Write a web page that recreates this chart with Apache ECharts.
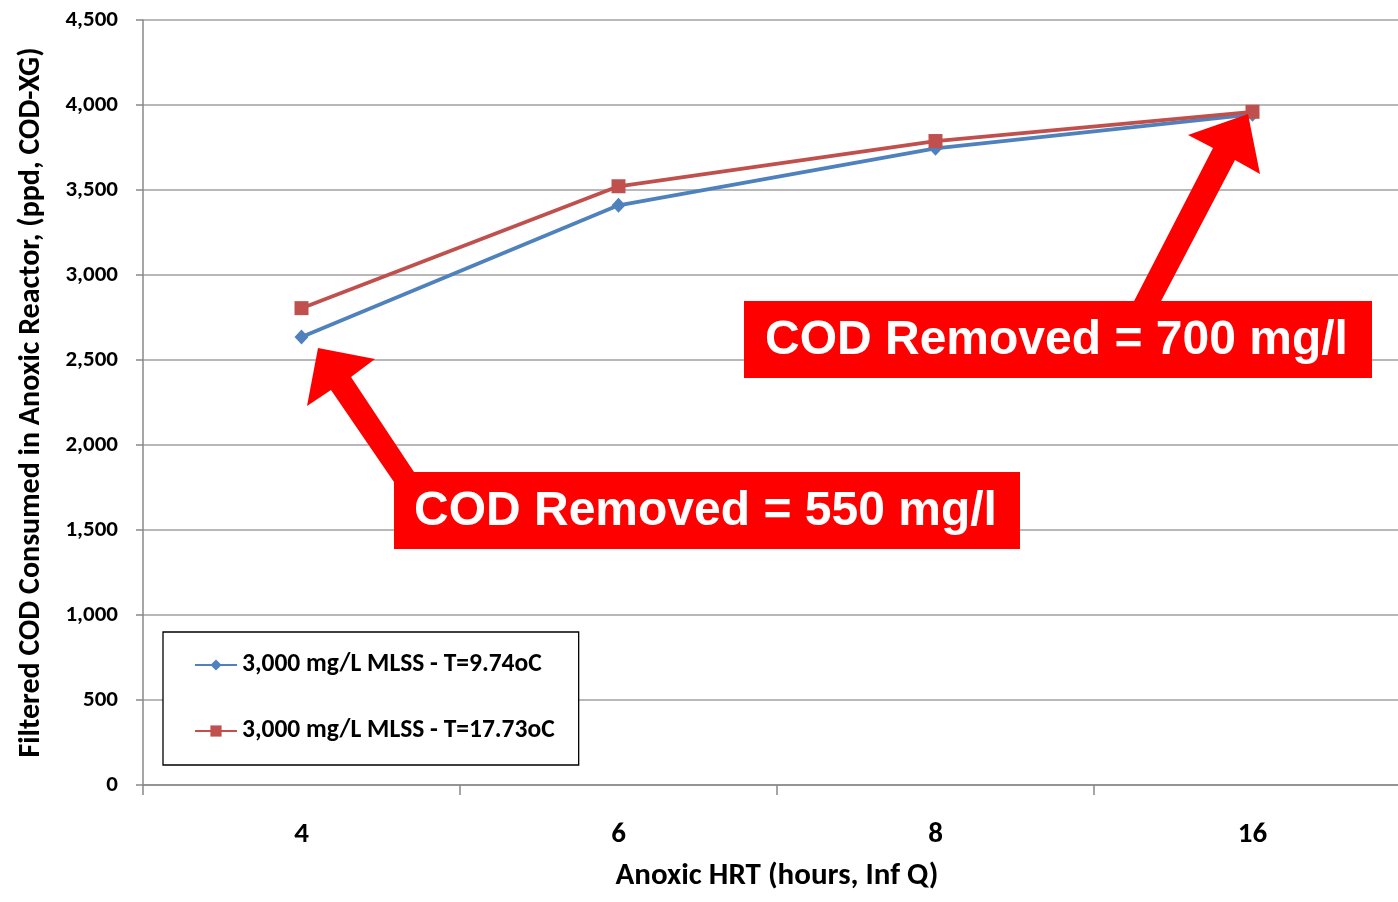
<!DOCTYPE html>
<html>
<head>
<meta charset="utf-8">
<script src="https://cdn.jsdelivr.net/npm/echarts@6/dist/echarts.min.js"></script>
<style>html,body{margin:0;padding:0;background:#fff}#c{width:1398px;height:902px}</style>
</head>
<body>
<div id="c"></div>
<script>
var categories = ['4', '6', '8', '16'];
var seriesNames = ['3,000 mg/L MLSS - T=9.74oC', '3,000 mg/L MLSS - T=17.73oC'];
var coldValues = [2635, 3410, 3745, 3945];
var warmValues = [2805, 3522, 3788, 3960];
var yTicks = [0, 500, 1000, 1500, 2000, 2500, 3000, 3500, 4000, 4500];
var noteLow = 'COD Removed = 550 mg/l';
var noteHigh = 'COD Removed = 700 mg/l';

var FONT = "Carlito, Calibri, Lato, sans-serif";
var chart = echarts.init(document.getElementById('c'), null, {renderer: 'canvas'});
chart.setOption({
  animation: false,
  backgroundColor: '#fff',
  grid: {left: 143, top: 20, width: 1268, height: 765, containLabel: false, outerBoundsMode: 'none'},
  legend: {
    orient: 'vertical', left: 163, top: 632,
    padding: [20, 24, 21, 31], itemGap: 40,
    itemWidth: 42, itemHeight: 14,
    borderColor: '#000', borderWidth: 1.3, backgroundColor: '#fff',
    textStyle: {fontFamily: FONT, fontWeight: 'bold', fontSize: 25.5, color: '#000'},
    data: seriesNames
  },
  xAxis: {
    type: 'category', data: categories, boundaryGap: true,
    axisLine: {lineStyle: {color: '#888', width: 1.5}},
    axisTick: {show: true, length: 10, lineStyle: {color: '#888', width: 1.5}},
    axisLabel: {margin: 35, fontFamily: FONT, fontWeight: 'bold', fontSize: 29, color: '#000'},
    splitLine: {show: false},
    name: 'Anoxic HRT (hours, Inf Q)', nameLocation: 'middle', nameGap: 76,
    nameTextStyle: {fontFamily: FONT, fontWeight: 'bold', fontSize: 31, color: '#000'}
  },
  yAxis: {
    type: 'value', min: 0, max: 4500, interval: 500,
    axisLine: {show: true, lineStyle: {color: '#888', width: 1.5}},
    axisTick: {show: true, length: 7, lineStyle: {color: '#888', width: 1.5}},
    splitLine: {show: true, lineStyle: {color: '#a0a0a0', width: 1.5}},
    axisLabel: {margin: 25, fontFamily: FONT, fontWeight: 'bold', fontSize: 23, color: '#000',
      formatter: function (v) { return yTicks.indexOf(v) >= 0 ? v.toLocaleString('en-US') : ''; }},
    name: 'Filtered COD Consumed in Anoxic Reactor, (ppd, COD-XG)', nameLocation: 'middle', nameGap: 97,
    nameTextStyle: {fontFamily: FONT, fontWeight: 'bold', fontSize: 30, color: '#000'}
  },
  series: [
    {name: seriesNames[0], type: 'line', data: coldValues, symbol: 'diamond', symbolSize: [14, 15],
     itemStyle: {color: '#4F81BD'}, lineStyle: {color: '#4F81BD', width: 3.8}},
    {name: seriesNames[1], type: 'line', data: warmValues, symbol: 'rect', symbolSize: 14,
     itemStyle: {color: '#C0504D'}, lineStyle: {color: '#C0504D', width: 3.8}}
  ],
  graphic: [
    {type: 'polygon', z: 100, shape: {points: [[318, 348], [375, 359], [351, 377], [416, 475], [396, 485], [331, 390], [307, 406]]}, style: {fill: '#FF0000'}},
    {type: 'polygon', z: 100, shape: {points: [[1248, 114], [1260, 174], [1235, 160], [1159, 305], [1132, 305], [1213, 148], [1188, 135]]}, style: {fill: '#FF0000'}},
    {type: 'rect', z: 101, shape: {x: 394, y: 472, width: 626, height: 77}, style: {fill: '#FF0000'}},
    {type: 'rect', z: 101, shape: {x: 744, y: 301, width: 628, height: 77}, style: {fill: '#FF0000'}},
    {type: 'text', z: 102, style: {x: 414, y: 512, text: noteLow, fill: '#fff', font: "bold 48px 'Liberation Sans', Arial, sans-serif", textVerticalAlign: 'middle'}},
    {type: 'text', z: 102, style: {x: 765, y: 341, text: noteHigh, fill: '#fff', font: "bold 48px 'Liberation Sans', Arial, sans-serif", textVerticalAlign: 'middle'}}
  ]
});
</script>
</body>
</html>
